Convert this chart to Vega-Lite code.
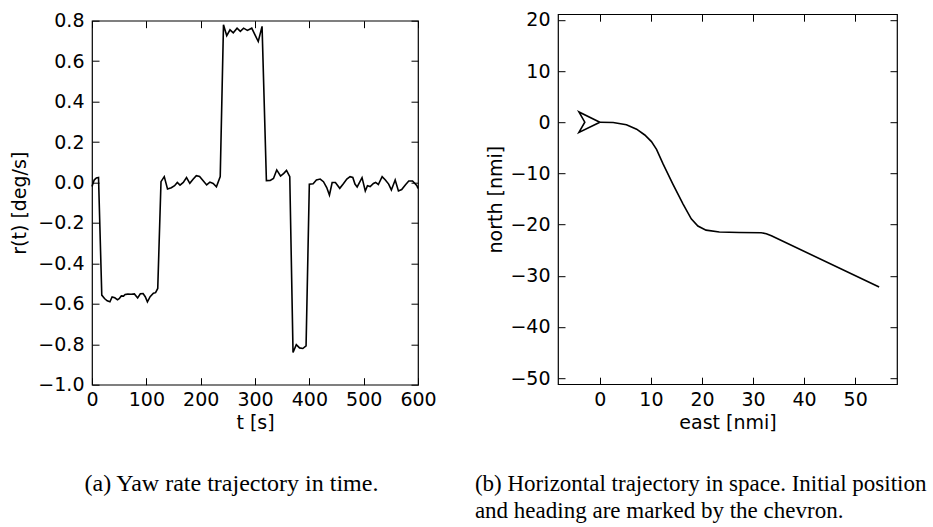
{
  "$schema": "https://vega.github.io/schema/vega-lite/v6.json",
  "background": "white",
  "padding": {"left": 10, "top": 4, "right": 0, "bottom": 0},
  "spacing": 37,
  "center": true,
  "config": {
    "view": {"stroke": "#000", "strokeWidth": 1.2},
    "font": "DejaVu Sans",
    "axis": {
      "labelFont": "DejaVu Sans", "labelFontSize": 19, "labelColor": "#000",
      "titleFont": "DejaVu Sans", "titleFontSize": 19, "titleFontWeight": "normal", "titleColor": "#000",
      "grid": false, "domain": false, "tickColor": "#000", "tickSize": -7, "tickWidth": 1,
      "labelPadding": 15, "titlePadding": 6, "labelOverlap": false, "labelFlush": false
    },
    "axisBottom": {"labelPadding": 13},
    "title": {"font": "Liberation Serif", "fontSize": 24, "fontWeight": "normal", "color": "#000"}
  },
  "hconcat": [
    {
      "width": 326, "height": 364,
      "title": {"text": ["(a) Yaw rate trajectory in time.", " "], "orient": "bottom", "anchor": "middle", "frame": "bounds", "dx": 8, "offset": 39, "lineHeight": 21},
      "data": {"values": [
        {"t": 0, "r": -0.02}, {"t": 4, "r": 0.012}, {"t": 8, "r": 0.022}, {"t": 12, "r": 0.025},
        {"t": 18, "r": -0.557}, {"t": 23, "r": -0.574}, {"t": 28, "r": -0.585}, {"t": 33, "r": -0.59},
        {"t": 37, "r": -0.566}, {"t": 42, "r": -0.57}, {"t": 47, "r": -0.58}, {"t": 50, "r": -0.575},
        {"t": 54, "r": -0.561}, {"t": 58, "r": -0.562}, {"t": 61, "r": -0.554}, {"t": 66, "r": -0.552},
        {"t": 72, "r": -0.553}, {"t": 78, "r": -0.551}, {"t": 84, "r": -0.571}, {"t": 89, "r": -0.55},
        {"t": 94, "r": -0.549}, {"t": 98, "r": -0.565}, {"t": 102, "r": -0.59}, {"t": 107, "r": -0.565},
        {"t": 113, "r": -0.548}, {"t": 117, "r": -0.545}, {"t": 121, "r": -0.524},
        {"t": 127, "r": 0.004}, {"t": 133, "r": 0.029}, {"t": 139, "r": -0.032}, {"t": 146, "r": -0.026},
        {"t": 152, "r": -0.016}, {"t": 157, "r": 0.0}, {"t": 162, "r": -0.013}, {"t": 168, "r": 0.0},
        {"t": 174, "r": 0.024}, {"t": 180, "r": -0.004}, {"t": 186, "r": 0.016}, {"t": 192, "r": 0.034},
        {"t": 198, "r": 0.03}, {"t": 205, "r": 0.007}, {"t": 211, "r": -0.012}, {"t": 217, "r": 0.002},
        {"t": 223, "r": -0.005}, {"t": 229, "r": -0.021}, {"t": 236, "r": 0.029},
        {"t": 242, "r": 0.78}, {"t": 248, "r": 0.726}, {"t": 254, "r": 0.755}, {"t": 260, "r": 0.74},
        {"t": 267, "r": 0.763}, {"t": 273, "r": 0.747}, {"t": 279, "r": 0.763}, {"t": 286, "r": 0.752},
        {"t": 294, "r": 0.763}, {"t": 300, "r": 0.73}, {"t": 306, "r": 0.697}, {"t": 313, "r": 0.772},
        {"t": 321, "r": 0.009}, {"t": 328, "r": 0.01}, {"t": 334, "r": 0.02}, {"t": 340, "r": 0.062},
        {"t": 347, "r": 0.032}, {"t": 353, "r": 0.045}, {"t": 358, "r": 0.06}, {"t": 364, "r": 0.029},
        {"t": 370, "r": -0.841}, {"t": 376, "r": -0.802}, {"t": 382, "r": -0.818}, {"t": 388, "r": -0.821},
        {"t": 394, "r": -0.808},
        {"t": 400, "r": -0.009}, {"t": 407, "r": -0.006}, {"t": 413, "r": 0.012}, {"t": 420, "r": 0.017},
        {"t": 426, "r": 0.004}, {"t": 432, "r": -0.025}, {"t": 437, "r": -0.062}, {"t": 442, "r": 0.0},
        {"t": 448, "r": 0.0}, {"t": 456, "r": -0.029}, {"t": 463, "r": -0.005}, {"t": 469, "r": 0.017},
        {"t": 475, "r": 0.029}, {"t": 480, "r": 0.025}, {"t": 484, "r": -0.008}, {"t": 488, "r": -0.022},
        {"t": 497, "r": 0.024}, {"t": 503, "r": -0.042}, {"t": 507, "r": -0.016}, {"t": 512, "r": -0.02},
        {"t": 518, "r": -0.005}, {"t": 522, "r": 0.0}, {"t": 527, "r": -0.01}, {"t": 534, "r": 0.029},
        {"t": 540, "r": 0.012}, {"t": 546, "r": -0.008}, {"t": 551, "r": -0.037}, {"t": 558, "r": 0.012},
        {"t": 564, "r": -0.042}, {"t": 570, "r": -0.035}, {"t": 577, "r": -0.011}, {"t": 583, "r": 0.007},
        {"t": 590, "r": 0.007}, {"t": 598, "r": -0.016}, {"t": 600, "r": -0.03}
      ]},
      "layer": [
        {
          "mark": {"type": "line", "color": "#000", "strokeWidth": 1.6},
          "encoding": {
            "x": {"field": "t", "type": "quantitative", "scale": {"domain": [0, 600], "nice": false, "zero": false},
                  "axis": {"orient": "bottom", "values": [0, 100, 200, 300, 400, 500, 600], "title": "t [s]", "titlePadding": 4}},
            "y": {"field": "r", "type": "quantitative", "scale": {"domain": [-1, 0.8], "nice": false, "zero": false},
                  "axis": {"orient": "left", "values": [-1, -0.8, -0.6, -0.4, -0.2, 0, 0.2, 0.4, 0.6, 0.8], "format": ".1f", "title": "r(t) [deg/s]", "titlePadding": 8}}
          }
        },
        {
          "mark": {"type": "line", "opacity": 0},
          "encoding": {
            "x": {"field": "t", "type": "quantitative",
                  "axis": {"orient": "top", "values": [0, 100, 200, 300, 400, 500, 600], "labels": false, "title": "x", "titleOpacity": 0, "titleFontSize": 10, "titlePadding": 5}},
            "y": {"field": "r", "type": "quantitative",
                  "axis": {"orient": "right", "values": [-1, -0.8, -0.6, -0.4, -0.2, 0, 0.2, 0.4, 0.6, 0.8], "labels": false, "title": null}}
          }
        }
      ],
      "resolve": {"axis": {"x": "independent", "y": "independent"}}
    },
    {
      "width": 339, "height": 370,
      "title": {"text": ["(b) Horizontal trajectory in space.  Initial position", "and heading are marked by the chevron."], "orient": "bottom", "anchor": "start", "frame": "bounds", "dx": -12, "offset": 41, "lineHeight": 27, "fontSize": 23},
      "layer": [
        {
          "data": {"values": [
            {"east": 0, "north": 0}, {"east": 2.6, "north": -0.07}, {"east": 5.2, "north": -0.5},
            {"east": 7.2, "north": -1.37}, {"east": 8.8, "north": -2.5}, {"east": 10.1, "north": -3.8},
            {"east": 11.1, "north": -5.3}, {"east": 12.4, "north": -8.2}, {"east": 14.3, "north": -12.1},
            {"east": 16.3, "north": -16.0}, {"east": 17.9, "north": -18.9}, {"east": 19.2, "north": -20.3},
            {"east": 20.8, "north": -21.1}, {"east": 23.4, "north": -21.45}, {"east": 27.3, "north": -21.55},
            {"east": 31.6, "north": -21.6}, {"east": 32.6, "north": -21.8}, {"east": 33.6, "north": -22.2},
            {"east": 54.7, "north": -32.2}
          ]},
          "mark": {"type": "line", "color": "#000", "strokeWidth": 1.6},
          "encoding": {
            "x": {"field": "east", "type": "quantitative", "scale": {"domain": [-8.2, 58.2], "nice": false, "zero": false},
                  "axis": {"orient": "bottom", "values": [0, 10, 20, 30, 40, 50], "format": "d", "title": "east [nmi]", "titlePadding": 4}},
            "y": {"field": "north", "type": "quantitative", "scale": {"domain": [-51.2, 21.1], "nice": false, "zero": false},
                  "axis": {"orient": "left", "values": [-50, -40, -30, -20, -10, 0, 10, 20], "format": "d", "title": "north [nmi]", "titlePadding": 4}}
          }
        },
        {
          "data": {"values": [
            {"i": 0, "east": 0, "north": 0}, {"i": 1, "east": -4.1, "north": 2.0},
            {"i": 2, "east": -2.95, "north": 0}, {"i": 3, "east": -4.1, "north": -2.0},
            {"i": 4, "east": 0, "north": 0}
          ]},
          "mark": {"type": "line", "color": "#000", "strokeWidth": 1.6},
          "encoding": {
            "x": {"field": "east", "type": "quantitative",
                  "axis": {"orient": "top", "values": [0, 10, 20, 30, 40, 50], "labels": false, "title": null}},
            "y": {"field": "north", "type": "quantitative",
                  "axis": {"orient": "right", "values": [-50, -40, -30, -20, -10, 0, 10, 20], "labels": false, "title": null}},
            "order": {"field": "i", "type": "quantitative"}
          }
        }
      ],
      "resolve": {"axis": {"x": "independent", "y": "independent"}}
    }
  ]
}
